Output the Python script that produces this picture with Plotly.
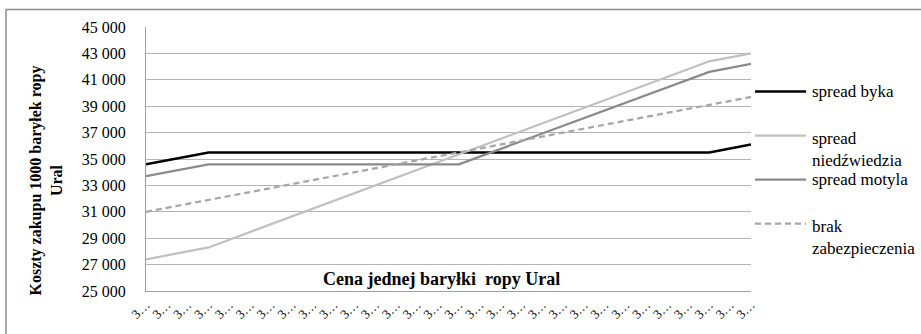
import plotly.graph_objects as go

# Ural crude price per barrel (x) and purchase cost of 1000 barrels under each strategy
prices = [31.0, 31.3, 31.6, 31.9, 32.2, 32.5, 32.8, 33.1, 33.4, 33.7,
          34.0, 34.3, 34.6, 34.9, 35.2, 35.5, 35.8, 36.1, 36.4, 36.7,
          37.0, 37.3, 37.6, 37.9, 38.2, 38.5, 38.8, 39.1, 39.4, 39.7]
tick_labels = ["3…"] * len(prices)

spread_byka = [34600, 34900, 35200, 35500, 35500, 35500, 35500, 35500, 35500, 35500,
               35500, 35500, 35500, 35500, 35500, 35500, 35500, 35500, 35500, 35500,
               35500, 35500, 35500, 35500, 35500, 35500, 35500, 35500, 35800, 36100]
spread_niedzwiedzia = [27400, 27700, 28000, 28300, 28888, 29475, 30063, 30650, 31238, 31825,
                       32413, 33000, 33588, 34175, 34763, 35350, 35938, 36525, 37113, 37700,
                       38288, 38875, 39463, 40050, 40638, 41225, 41813, 42400, 42700, 43000]
spread_motyla = [33700, 34000, 34300, 34600, 34600, 34600, 34600, 34600, 34600, 34600,
                 34600, 34600, 34600, 34600, 34600, 34600, 35183, 35767, 36350, 36933,
                 37517, 38100, 38683, 39267, 39850, 40433, 41017, 41600, 41900, 42200]
brak_zabezpieczenia = [31000, 31300, 31600, 31900, 32200, 32500, 32800, 33100, 33400, 33700,
                       34000, 34300, 34600, 34900, 35200, 35500, 35800, 36100, 36400, 36700,
                       37000, 37300, 37600, 37900, 38200, 38500, 38800, 39100, 39400, 39700]

series = [
    ("spread byka", spread_byka, "#000000", 2.5, "solid"),
    ("spread<br>niedźwiedzia", spread_niedzwiedzia, "#c0c0c0", 2.25, "solid"),
    ("spread motyla", spread_motyla, "#8a8a8a", 2.25, "solid"),
    ("brak<br>zabezpieczenia", brak_zabezpieczenia, "#a6a6a6", 2.25, "6px,4px"),
]

W, H = 921, 334
L, R, T, B = 146, 170, 27, 37
PW, PH = W - L - R, H - T - B


def px_x(p):
    return (p - L) / PW


def px_y(p):
    return (H - B - p) / PH


fig = go.Figure()
for name, vals, color, width, dash in series:
    fig.add_trace(go.Scatter(x=prices, y=vals, mode="lines", name=name,
                             line=dict(color=color, width=width, dash=dash),
                             showlegend=False))

serif = "Liberation Serif"

shapes = [
    # outer chart frame
    dict(type="rect", xref="paper", yref="paper",
         x0=px_x(6), y0=px_y(9), x1=px_x(W + 20), y1=px_y(H + 20),
         line=dict(color="#8c8c8c", width=1.5), layer="below"),
]
annotations = []

# legend drawn at the right side
legend_rows = [(93, 93), (138, 152), (183, 183), (228, 242)]
for (name, vals, color, width, dash), (ly, ty) in zip(series, legend_rows):
    shapes.append(dict(type="line", xref="paper", yref="paper",
                       x0=px_x(755), x1=px_x(806), y0=px_y(ly), y1=px_y(ly),
                       line=dict(color=color, width=width, dash=dash)))
    annotations.append(dict(xref="paper", yref="paper", x=px_x(810), y=px_y(ty),
                            xanchor="left", yanchor="middle", align="left",
                            text=name, showarrow=False,
                            font=dict(family=serif, size=17, color="#000000")))

annotations.append(dict(xref="paper", yref="paper", x=px_x(46), y=px_y(184),
                        xanchor="center", yanchor="middle", textangle=-90,
                        text="<b>Koszty zakupu 1000 baryłek ropy<br>Ural</b>",
                        showarrow=False,
                        font=dict(family=serif, size=16, color="#000000")))
annotations.append(dict(xref="paper", yref="paper", x=px_x(441), y=px_y(285),
                        xanchor="center", yanchor="middle",
                        text="<b>Cena jednej baryłki  ropy Ural</b>",
                        showarrow=False,
                        font=dict(family=serif, size=18, color="#000000")))

fig.update_layout(
    width=W, height=H,
    margin=dict(l=L, r=R, t=T, b=B, pad=0),
    paper_bgcolor="#ffffff", plot_bgcolor="#ffffff",
    font=dict(family=serif, color="#000000"),
    separators=", ",
    showlegend=False,
    shapes=shapes,
    annotations=annotations,
    xaxis=dict(range=[prices[0], prices[-1]], tickvals=prices, ticktext=tick_labels,
               tickangle=-45, showgrid=False, zeroline=False,
               showline=True, linecolor="#a0a0a0", linewidth=1, ticks="",
               tickfont=dict(family=serif, size=13, color="#000000")),
    yaxis=dict(range=[25000, 45000], dtick=2000, tick0=25000, tickformat=",d",
               showgrid=True, gridcolor="#b5b5b5", gridwidth=1, zeroline=False,
               showline=True, linecolor="#a0a0a0", linewidth=1, ticks="",
               ticklabelstandoff=16,
               tickfont=dict(family=serif, size=16, color="#000000")),
)

fig.write_html("out.html")
